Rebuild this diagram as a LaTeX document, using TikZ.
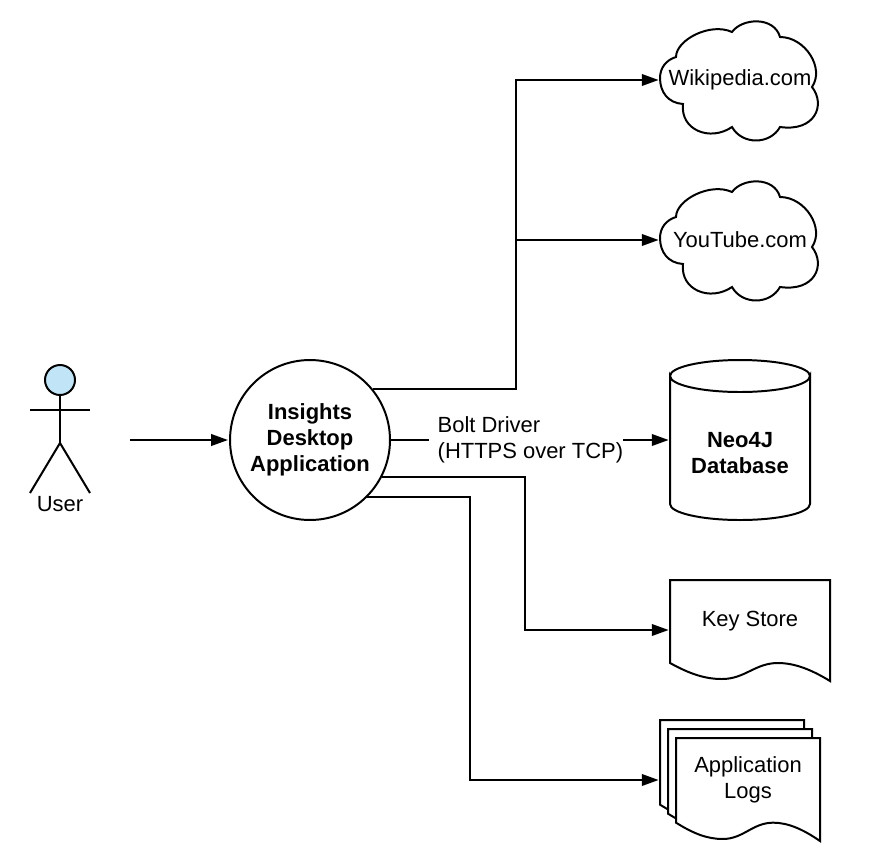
\documentclass[tikz,border=0pt]{standalone}
\usepackage{fontspec}
\setmainfont{Liberation Sans}
\usetikzlibrary{arrows.meta}
\definecolor{headblue}{HTML}{C1E4F7}

\newcommand{\cloudpath}{(23,24) .. controls (8,23) and (0,12) .. (0,-2) .. controls (0,-12) and (6,-20) .. (16,-23)
	.. controls (16,-40) and (50,-58) .. (72,-48) .. controls (82,-62) and (114,-64) .. (120,-43)
	.. controls (145,-43) and (165,-12) .. (152,7) .. controls (166,25) and (155,52) .. (120,47)
	.. controls (110,65) and (82,65) .. (72,47) .. controls (50,62) and (20,50) .. (23,24) -- cycle}
\newcommand{\sheetpath}{(0,0) -- (160,0) -- (160,101) .. controls (142,90) and (125,83) .. (108,83)
	.. controls (85,83) and (75,99) .. (52,99) .. controls (35,99) and (20,94) .. (0,83) -- cycle}

\begin{document}
\begin{tikzpicture}[x=0.02cm,y=-0.02cm]
			\tikzstyle{every node}+=[inner sep=0pt,align=center,font=\fontsize{12.5}{14.75}\selectfont]
			\tikzstyle{outline}=[black,line width=1.13pt,line join=miter]
			\tikzstyle{flow}=[outline,-{Triangle[length=9.6pt,width=6.6pt]},shorten >=0.6pt]
			\tikzstyle{sheet}=[outline,fill=white]
			\tikzstyle{region}=[minimum width=3.2cm]
			\useasboundingbox (0,0) rectangle (874,865);
			\fill [white] (0,0) rectangle (874,865);

			\node [circle,draw,outline,fill=headblue,minimum size=0.6cm] (head) at (60,380) {};
			\coordinate (hip) at (60,443);
			\coordinate (handl) at (30,410);
			\coordinate (handr) at (90,410);
			\coordinate (footl) at (30,493);
			\coordinate (footr) at (90,493);
			\draw [outline] (head) -- (hip);
			\draw [outline] (handl) -- (handr);
			\draw [outline] (footl) -- (hip) -- (footr);
			\node (user) at (60,504) {User};

			\node [circle,draw,outline,minimum size=3.2cm] (app) at (310,440) {\textbf{Insights}\\\textbf{Desktop}\\\textbf{Application}};
			\coordinate (start) at (130,440);
			\draw [flow] (start) -- (app);

			\node [region,minimum height=2.4cm] (wiki) at (740,80) {Wikipedia.com};
			\node [region,minimum height=2.4cm] (youtube) at (740,240) {YouTube.com};
			\draw [outline,shift={(660,80)}] \cloudpath;
			\draw [outline,shift={(660,240)}] \cloudpath;

			\node [minimum width=2.8cm,minimum height=3.2cm] (neo) at (740,440) {};
			\draw [outline] (670,376) arc (180:0:70 and 16) -- (810,504) arc (0:180:70 and 16) -- cycle;
			\draw [outline] (670,376) arc (180:360:70 and 16);
			\node (neotext) at (740,453) {\textbf{Neo4J}\\\textbf{Database}};

			\node [region,minimum height=2cm] (keys) at (750,630) {};
			\draw [sheet,shift={(670,580)}] \sheetpath;
			\node (keystext) at (750,621) {Key Store};

			\node [minimum width=3.2cm,minimum height=2cm] (logs) at (740,780) {};
			\draw [sheet,shift={(660,720)},xscale=0.9,yscale=1.02] \sheetpath;
			\draw [sheet,shift={(668,729)},xscale=0.9,yscale=1.02] \sheetpath;
			\draw [sheet,shift={(676,738)},xscale=0.9,yscale=1.02] \sheetpath;
			\node (logstext) at (748,780) {Application\\Logs};

			\coordinate (upper) at (516,240);
			\coordinate (lower) at (525,630);
			\coordinate (lowest) at (470,780);
			\draw [flow] (app.39) -| (upper) |- (wiki.west);
			\draw [flow] (upper) -- (youtube.west);
			\draw [flow] (app.east) -- (neo.west) node [pos=0.484,fill=white,align=left] (bolt) {\hspace*{5.2pt}Bolt Driver\\\hspace*{5.2pt}(HTTPS over TCP)};
			\draw [flow] (app.-27) -| (lower) -- (keys.west);
			\draw [flow] (app.-45) -| (lowest) -- (logs.west);
		\end{tikzpicture}
\end{document}
